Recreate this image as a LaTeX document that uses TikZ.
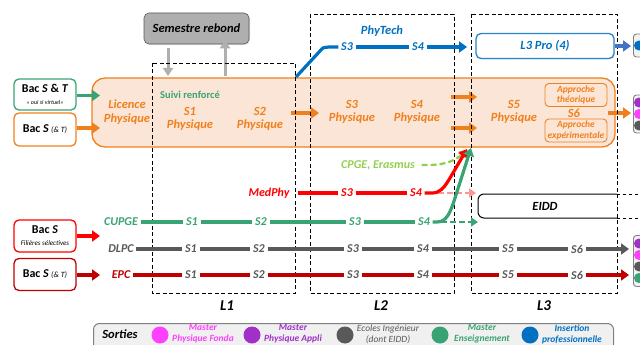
\documentclass[tikz,border=0pt]{standalone}
\usepackage{fontspec}
\setmainfont{Carlito}
\usetikzlibrary{arrows.meta,shadows}
\definecolor{org}{RGB}{240,128,30}
\definecolor{peach}{RGB}{251,229,214}
\definecolor{blu}{RGB}{0,112,192}
\definecolor{lblu}{RGB}{68,114,196}
\definecolor{grn}{RGB}{58,163,116}
\definecolor{lgrn}{RGB}{146,208,80}
\definecolor{rd}{RGB}{255,0,0}
\definecolor{drd}{RGB}{192,0,0}
\definecolor{gry}{RGB}{89,89,89}
\definecolor{mag}{RGB}{255,64,255}
\definecolor{pur}{RGB}{160,48,200}
\definecolor{pnk}{RGB}{255,150,150}
\definecolor{lgry}{RGB}{175,175,175}
\begin{document}
\begin{tikzpicture}[x=1pt,y=-1pt,
 bi/.style={font=\fontsize{12.5}{13.5}\selectfont\bfseries\itshape, align=center, inner sep=1pt},
 sl/.style={font=\fontsize{12}{12}\selectfont\bfseries\itshape, inner sep=2.5pt},
 trk/.style={line width=3.2pt},
 arr/.style={line width=3.2pt,-{Triangle[length=8pt,width=11pt]}},
 yrbox/.style={dashed, line width=0.9pt, dash pattern=on 4pt off 2.5pt},
 yrlab/.style={font=\fontsize{15}{16}\selectfont\bfseries\itshape},
 bac/.style={draw, line width=1.3pt, rounded corners=5pt, fill=white, minimum width=62pt, align=center, inner sep=0pt},
 dotc/.style={circle, inner sep=0pt, minimum size=10pt},
 sdot/.style={circle, inner sep=0pt, minimum size=17pt},
 appr/.style={draw=org, line width=0.9pt, rounded corners=4pt, fill=peach, minimum width=62pt, minimum height=23pt, align=center, inner sep=0pt, text=org, font=\fontsize{9.5}{10.5}\selectfont\bfseries\itshape},
 stxt/.style={align=center, font=\fontsize{9.5}{11}\selectfont\bfseries\itshape},
 rbox/.style={draw=gray, line width=0.9pt, fill=gray!10, rounded corners=3pt, minimum width=24pt, inner sep=0pt},
]
\useasboundingbox (0,0) rectangle (640,345);
\clip (0,0) rectangle (640,345);

% Semestre rebond
\node[draw=gray!70!black, line width=0.6pt, fill=lgry, rounded corners=5pt, minimum width=105pt, minimum height=31pt, drop shadow={opacity=0.25, shadow xshift=1pt, shadow yshift=-1pt}, font=\fontsize{12.5}{13}\selectfont\bfseries\itshape] (sr) at (196.5,28.5) {Semestre rebond};

% big orange box
\node[draw=org, line width=1.3pt, fill=peach, rounded corners=13pt, minimum width=523pt, minimum height=69pt, inner sep=0pt] (lic) at (353.5,112.5) {};

% gray arrows
\coordinate (gdn) at (168,76);
\coordinate (gup) at (225,76);
\draw[line width=3pt, lgry, -{Triangle[length=8pt,width=10pt]}] (sr.south -| gdn) ++(0,4) -- (gdn);
\draw[line width=3pt, lgry, -{Triangle[length=8pt,width=10pt]}] (gup) -- ([yshift=4pt]sr.south -| gup);

% texts in orange box
\node[bi, text=org] (licp) at (127,112) {Licence\\Physique};
\node[font=\fontsize{10.5}{11}\selectfont\bfseries, text=grn] (suivi) at (190,95) {Suivi renforcé};
\node[bi, text=org] (s1p) at (190,119) {S1\\Physique};
\node[bi, text=org] (s2p) at (260,119) {S2\\Physique};
\node[bi, text=org] (s3p) at (352,112) {S3\\Physique};
\node[bi, text=org] (s4p) at (417,112) {S4\\Physique};
\node[bi, text=org] (s5p) at (514,112) {S5\\Physique};
\node[appr] (ath) at (576,95) {Approche\\théorique};
\node[appr] (aex) at (576,130.5) {Approche\\expérimentale};
\node[bi, text=org] (s6p) at (574,113) {S6};

\coordinate (oa1) at (291,113); \coordinate (oa2) at (319,113);
\draw[arr, org] (oa1) -- (oa2);
\coordinate (oa3) at (451,97); \coordinate (oa4) at (477,97);
\draw[arr, org] (oa3) -- (oa4);
\coordinate (oa5) at (451,128); \coordinate (oa6) at (477,128);
\draw[arr, org] (oa5) -- (oa6);
\coordinate (oa7) at (608,113); \coordinate (oa8) at (631,113);
\draw[arr, org] (oa7) -- (oa8);

% year boxes
\draw[yrbox] (152,63) rectangle (295,293);
\draw[yrbox] (310,14) rectangle (454,293);
\draw[yrbox] (471,14) rectangle (617,293);
\node[yrlab] (l1) at (227,306) {L1};
\node[yrlab] (l2) at (381,306) {L2};
\node[yrlab] (l3) at (544,306) {L3};

% PhyTech
\node[bi, text=blu] (pt) at (382,31) {PhyTech};
\node[sl, text=blu] (p3) at (347,47) {S3};
\node[sl, text=blu] (p4) at (418,47) {S4};
\coordinate (pst) at (296,77);
\coordinate (pend) at (467,47);
\draw[trk, blu] (pst) -- (320,51) .. controls (323,47.5) .. (329,47) -- (p3);
\draw[trk, blu] (p3) -- (p4);
\draw[arr, blu] (p4) -- (pend);
\node[draw=blu!85, line width=1.3pt, rounded corners=5pt, fill=white, minimum width=138pt, minimum height=25pt, drop shadow={opacity=0.2, shadow xshift=1pt, shadow yshift=-1pt}, font=\fontsize{12.5}{13}\selectfont\bfseries\itshape, text=blu] (l3pro) at (545,46) {L3 Pro (4)};
\coordinate (bend) at (631,46);
\draw[arr, lblu] (l3pro) -- (bend);

% right boxes
\node[rbox, minimum height=23pt, anchor=west] (rb1) at (633,45.5) {};
\node[dotc, fill=blu] at (639,45.5) {};
\node[rbox, minimum height=38pt, anchor=west] (rb2) at (633,114) {};
\node[dotc, fill=pur] at (639,102.5) {};
\node[dotc, fill=mag] at (639,114) {};
\node[dotc, fill=gry] at (639,125.5) {};
\node[rbox, minimum height=51pt, anchor=west] (rb3) at (633,261) {};
\node[dotc, fill=pur] at (639,243.5) {};
\node[dotc, fill=mag] at (639,255) {};
\node[dotc, fill=gry] at (639,266.5) {};
\node[dotc, fill=grn] at (639,278) {};

% EIDD
\draw[line width=1pt, rounded corners=6pt] (617,194) -- (478,194) -- (478,218) -- (617,218);
\draw[line width=1pt, dashed] (617,194) -- (640,194) (617,218) -- (640,218);
\node[font=\fontsize{12.5}{13}\selectfont\bfseries\itshape] (eidd) at (545,206) {EIDD};

% left bac boxes
\node[bac, draw=grn, minimum height=31pt] (b1) at (45,94.5) {{\fontsize{12}{12}\selectfont\bfseries Bac \textit{S} \& \textit{T}}\\[0pt]{\fontsize{6}{7}\selectfont\itshape « oui si virtuel»}};
\node[bac, draw=org, minimum height=33pt] (b2) at (45,129.5) {{\fontsize{12}{12}\selectfont\bfseries Bac \textit{S}} {\fontsize{8}{9}\selectfont\itshape (\& T)}};
\node[bac, draw=rd, minimum height=32pt] (b3) at (45,236) {{\fontsize{12}{12}\selectfont\bfseries Bac \textit{S}}\\[0pt]{\fontsize{7}{8}\selectfont\itshape Filières sélectives}};
\node[bac, draw=drd, minimum height=32pt] (b4) at (45,274.5) {{\fontsize{12}{12}\selectfont\bfseries Bac \textit{S}} {\fontsize{8}{9}\selectfont\itshape (\& T)}};
\coordinate (e1) at (100,95.5);
\coordinate (e2) at (100,128);
\coordinate (e3) at (100,236);
\coordinate (e4) at (100,275);
\draw[arr, grn] (b1.east |- e1) -- (e1);
\draw[arr, org] (b2.east |- e2) -- (e2);
\draw[arr, rd] (b3.east |- e3) -- (e3);
\draw[arr, drd] (b4.east |- e4) -- (e4);

% CPGE Erasmus
\node[sl, text=lgrn] (cpge) at (378,165) {CPGE, Erasmus};
\coordinate (cpe) at (467,150);
\draw[line width=2.3pt, lgrn, dashed, dash pattern=on 6pt off 3pt, -{Triangle[length=7pt,width=9pt]}, shorten <=4pt] (cpge) -- (428,165) .. controls (446,165) and (456,160) .. (cpe);

% MedPhy
\node[sl, text=rd] (mp) at (269,193) {MedPhy};
\node[sl, text=rd] (m3) at (347,193) {S3};
\node[sl, text=rd] (m4) at (416,193) {S4};
\coordinate (me) at (467,149);
\coordinate (mpk) at (476,193);
\coordinate (mps) at (438,193);
\draw[line width=2.8pt, pnk, dashed, dash pattern=on 6pt off 3pt, -{Triangle[length=7pt,width=9pt]}] (mps) -- (mpk);
\draw[trk, rd, shorten <=6pt] (mp) -- (m3);
\draw[trk, rd] (m3) -- (m4);
\draw[arr, rd] (m4) -- (432,193) .. controls (440,193) and (444,188) .. (450,178) -- (me);

% CUPGE
\node[sl, text=grn] (cu) at (121,222) {CUPGE};
\node[sl, text=grn] (c1) at (192,222) {S1};
\node[sl, text=grn] (c2) at (261,222) {S2};
\node[sl, text=grn] (c3) at (355,222) {S3};
\node[sl, text=grn] (c4) at (424,222) {S4};
\coordinate (ce) at (471,148);
\coordinate (cd) at (478,222);
\coordinate (cds) at (441,222);
\draw[line width=2.8pt, grn, dashed, dash pattern=on 6pt off 3pt, -{Triangle[length=7pt,width=9pt]}] (cds) -- (cd);
\draw[trk, grn] (cu) -- (c1) -- (c2) -- (c3) -- (c4);
\draw[arr, grn] (c4) -- (437,222) .. controls (446,222) and (450,214) .. (455,198) -- (ce);

% DLPC
\node[sl, text=gry] (dl) at (121,249) {DLPC};
\foreach \n/\x in {1/191,2/259,3/353,4/423,5/508,6/577}{
  \node[sl, text=gry] (d\n) at (\x,249) {S\n};
}
\coordinate (de) at (629,249);
\draw[trk, gry] (dl) -- (d1) -- (d2) -- (d3) -- (d4) -- (d5) -- (d6);
\draw[arr, gry] (d6) -- (de);

% EPC
\node[sl, text=drd] (ep) at (121,275) {EPC};
\foreach \n/\x in {1/191,2/259,3/353,4/423,5/508,6/577}{
  \node[sl, text=gry] (r\n) at (\x,275) {S\n};
}
\coordinate (re) at (629,275);
\draw[trk, drd] (ep) -- (r1) -- (r2) -- (r3) -- (r4) -- (r5) -- (r6);
\draw[arr, drd] (r6) -- (re);

% Sorties
\node[draw=gray, line width=1pt, fill=gray!12, rounded corners=6pt, minimum width=520pt, minimum height=40pt, inner sep=0pt, anchor=north west] (sort) at (93,323) {};
\node[font=\fontsize{12.5}{13}\selectfont\bfseries\itshape] (stit) at (120,334) {Sorties};
\node[sdot, fill=mag] (o1) at (160,335) {};
\node[stxt, text=mag] (t1) at (203,334) {Master\\Physique Fonda};
\node[sdot, fill=pur] (o2) at (252,335) {};
\node[stxt, text=pur] (t2) at (293,334) {Master\\Physique Appli};
\node[sdot, fill=gry] (o3) at (345,335) {};
\node[stxt, text=gry, font=\fontsize{9.5}{11}\selectfont\itshape] (t3) at (388,334) {Ecoles Ingénieur\\(dont EIDD)};
\node[sdot, fill=grn] (o4) at (440,335) {};
\node[stxt, text=grn] (t4) at (482,334) {Master\\Enseignement};
\node[sdot, fill=blu] (o5) at (530,335) {};
\node[stxt, text=blu] (t5) at (572,334) {Insertion\\professionnelle};
\end{tikzpicture}
\end{document}
